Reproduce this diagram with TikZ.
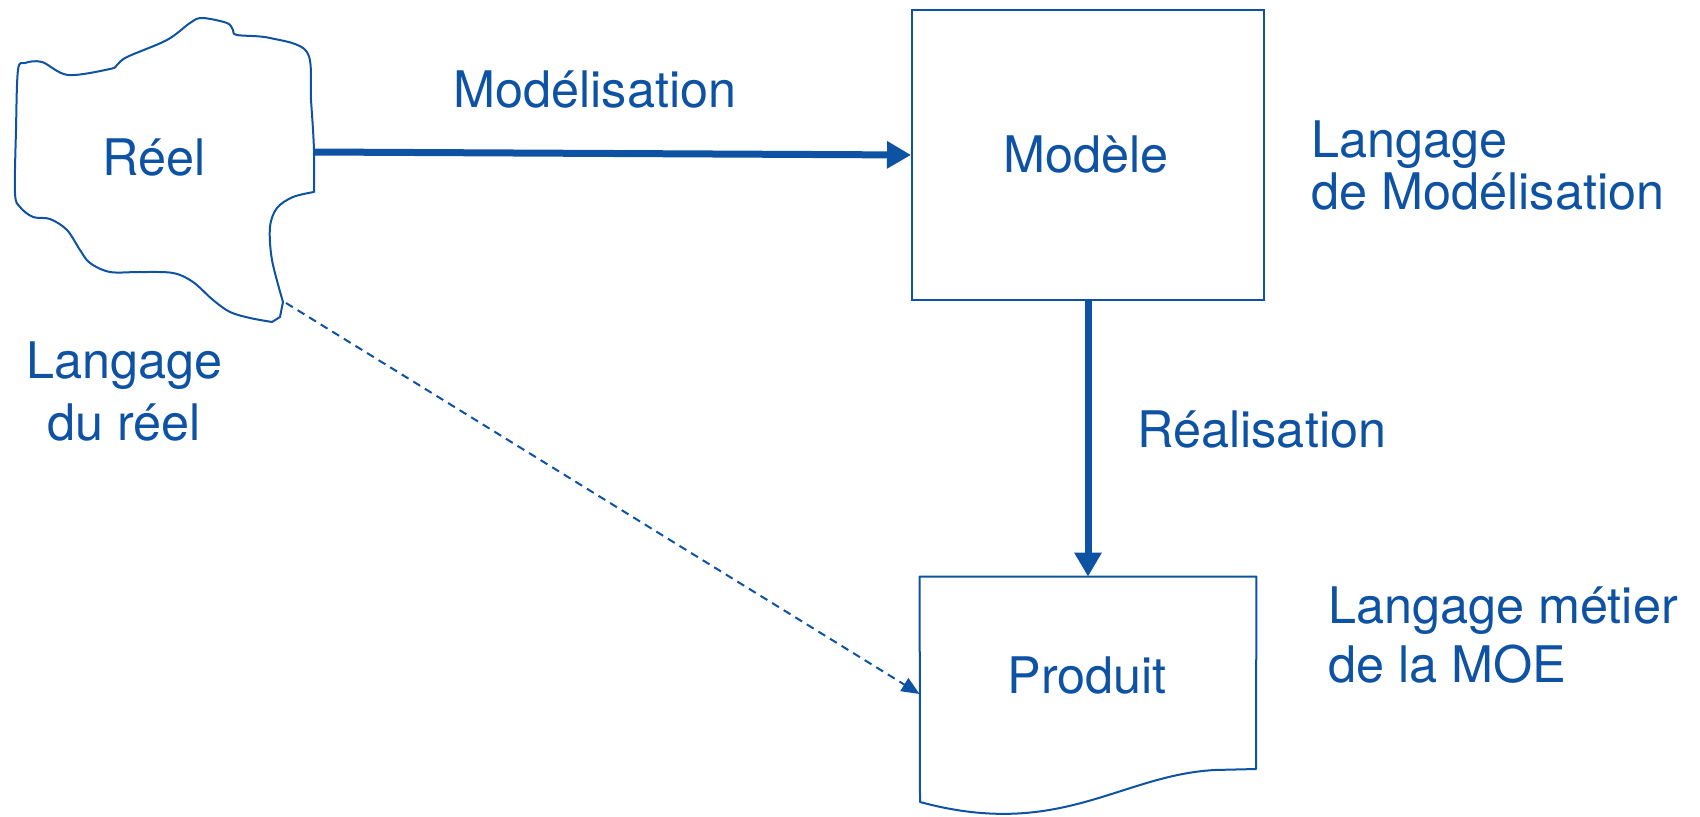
\documentclass[tikz,border=0pt]{standalone}
\usepackage{fontspec}
\setmainfont{TeX Gyre Heros}
\usetikzlibrary{arrows.meta}
\definecolor{dblue}{RGB}{14,82,164}
\begin{document}
\begin{tikzpicture}[x=0.5pt,y=-0.5pt,
  lbl/.style={inner sep=0pt, text=dblue, anchor=base west, font=\fontsize{25.2}{26}\selectfont},
  thin/.style={draw=dblue, line width=1pt},
  bigarrow/.style={draw=dblue, line width=3.5pt, -{Triangle[length=12pt,width=13pt]}},
  dasharrow/.style={draw=dblue, line width=1pt, dash pattern=on 4pt off 2.8pt, -{Triangle[length=9pt,width=7.5pt]}}
]
\useasboundingbox (0,0) rectangle (1700,817);
% cloud (Reel)
\draw[thin, line join=round] plot[smooth, tension=0.55] coordinates {(272,322) (250,318) (230,312) (213,300) (193,282) (173,273) (140,272) (110,272) (90,263) (80,250) (67,230) (50,219) (33,217) (20,207) (15,193) (16,130) (18,70) (25,63) (42,62) (68,75) (110,69) (117,65) (127,57) (167,40) (190,23) (202,18) (227,23) (233,30) (237,35) (270,38) (307,52) (311,100) (314,150) (314,192)}
  -- plot[smooth, tension=0.55] coordinates {(314,192) (293,197) (277,208) (270,227) (272,260) (283,302)} -- (280,317) -- cycle;
\node[lbl] (reel) at (102,176) {Réel};
\coordinate (reelE) at (313,152);
\coordinate (reelSE) at (286,303);
% Modele box
\node[thin, rectangle, minimum width=176pt, minimum height=145pt, inner sep=0pt] (modele) at (1088,155) {};
\node[lbl] (modeleT) at (1003,173) {Modèle};
% Produit document
\node[rectangle, minimum width=168pt, minimum height=117pt, inner sep=0pt] (produit) at (1088,694) {};
\draw[thin, line join=round] (produit.north west) -- (produit.north east) -- (1256,769) -- (1215,770) .. controls (1120,775) and (1060,840) .. (920,802) -- cycle;
\node[lbl] (produitT) at (1007,693) {Produit};
% labels
\node[lbl] (modelisation) at (453,108) {Modélisation};
\node[lbl] (realisation) at (1137,447) {Réalisation};
\node[lbl, align=center, font=\fontsize{25.2}{31}\selectfont] (lreel) at (26,440) {Langage\\du réel};
\node[lbl, align=left, font=\fontsize{25.2}{26}\selectfont] (lmod) at (1311,210) {Langage\\de Modélisation};
\node[lbl, align=left, font=\fontsize{25.2}{29.5}\selectfont] (lmoe) at (1328,682) {Langage métier\\de la MOE};
% connectors
\draw[bigarrow] (reelE) -- (modele.west);
\draw[bigarrow] (modele.south) -- (produit.north);
\draw[dasharrow] (reelSE) -- (produit.west);
\end{tikzpicture}
\end{document}
